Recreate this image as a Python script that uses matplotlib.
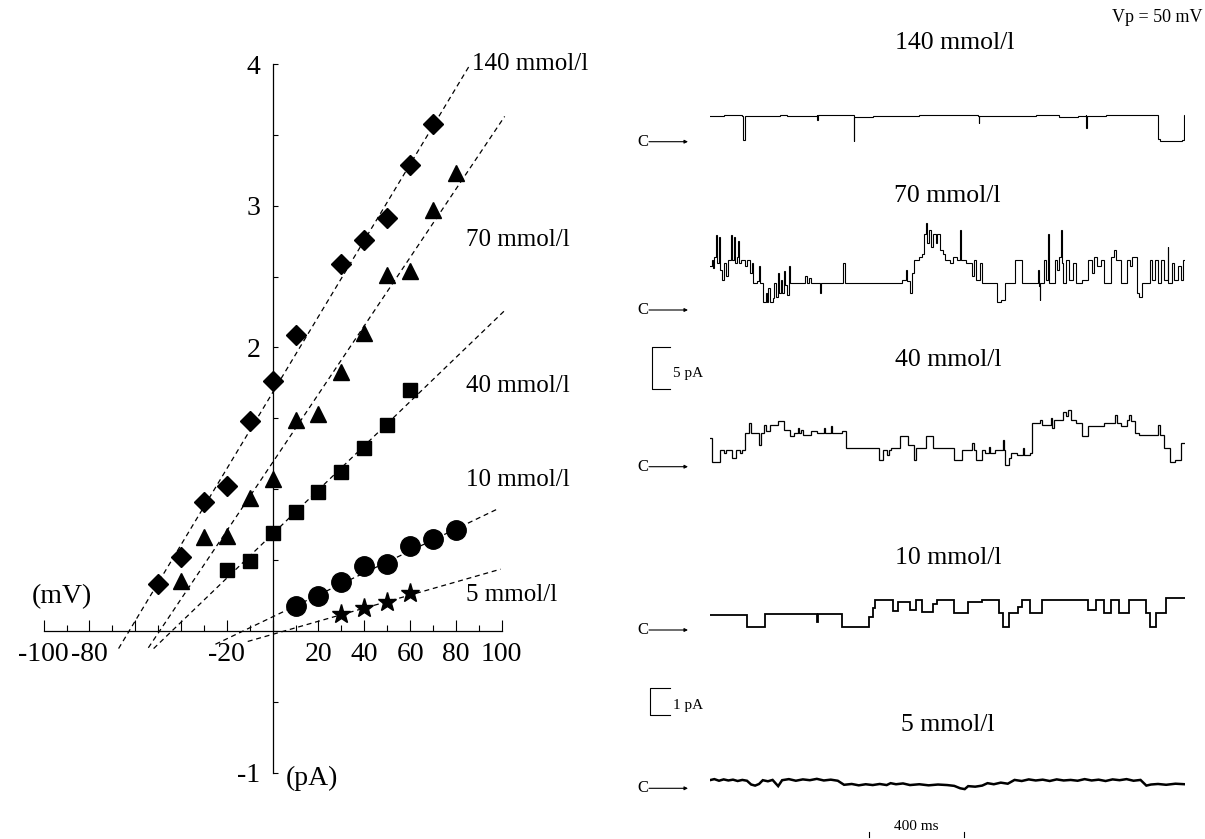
import matplotlib
matplotlib.use("Agg")
import matplotlib.pyplot as plt
import numpy as np

plt.rcParams['font.family'] = ['Liberation Serif', 'DejaVu Serif']

# ---------------- I-V data (mV, pA) ----------------
v140 = [-50, -40, -30, -20, -10, 0, 10, 30, 40, 50, 60, 70]
i140 = [0.33, 0.52, 0.91, 1.02, 1.48, 1.76, 2.09, 2.59, 2.76, 2.91, 3.29, 3.58]
v70 = [-40, -30, -20, -10, 0, 10, 20, 30, 40, 50, 60, 70, 80]
i70 = [0.35, 0.66, 0.67, 0.94, 1.07, 1.49, 1.53, 1.83, 2.10, 2.51, 2.54, 2.97, 3.23]
v40 = [-20, -10, 0, 10, 20, 30, 40, 50, 60]
i40 = [0.43, 0.49, 0.69, 0.84, 0.98, 1.12, 1.29, 1.45, 1.70]
v10 = [10, 20, 30, 40, 50, 60, 70, 80]
i10 = [0.176, 0.245, 0.346, 0.456, 0.47, 0.60, 0.65, 0.71]
v5 = [30, 40, 50, 60]
i5 = [0.122, 0.162, 0.205, 0.264]

# fitted lines: slope (pA/mV), intercept (pA), x-range (mV)
fit_slope = [0.02685, 0.0241, 0.01556, 0.00775, 0.00462]
fit_icpt = [1.682, 1.189, 0.684, 0.099, -0.0246]
fit_x0 = [-67.3, -54.3, -52.0, -25.0, -10.9]
fit_x1 = [85.6, 101.3, 101.3, 99.0, 99.5]

conc_labels = ['140 mmol/l', '70 mmol/l', '40 mmol/l', '10 mmol/l', '5 mmol/l']
xticks_major = [-100, -80, -60, -40, -20, 0, 20, 40, 60, 80, 100]
xtick_labels = ['-100', '-80', '', '', '-20', '', '20', '40', '60', '80', '100']
yticks_major = [-1, 2, 3, 4]
ytick_labels = ['-1', '2', '3', '4']

# ---------------- single-channel traces (ms, pA), step data ----------------
tr140_t = [0, 60, 140, 143, 150, 152, 300, 330, 460, 462, 464, 617, 619, 621, 640, 700, 900,
           1154, 1156, 1158, 1400, 1500, 1580, 1615, 1617, 1619, 1700, 1923, 1925, 1935,
           2030, 2036, 2041]
tr140_i = [3.10, 3.15, 3.10, 0.20, 0.20, 3.05, 3.15, 3.10, 3.20, 2.60, 3.15, 3.20, 0.10, 3.00,
           2.90, 3.05, 3.15, 3.10, 2.20, 3.10, 3.15, 3.00, 3.10, 3.15, 1.60, 3.10, 3.20, 3.15,
           0.30, 0.10, 0.15, 3.20, 3.20]

tr70_t = [0, 8, 14, 20, 28, 33, 42, 46, 53, 60, 68, 78, 90, 96, 103, 108, 116, 120, 125, 135,
          150, 161, 172, 180, 186, 205, 211, 218, 228, 240, 245, 252, 258, 270, 278, 286, 294,
          298, 306, 311, 319, 323, 330, 341, 345, 411, 418, 428, 434, 474, 479, 574, 580, 827,
          843, 848, 860, 868, 877, 900, 910, 920, 927, 932, 943, 952, 960, 970, 977, 990, 1000,
          1010, 1030, 1043, 1060, 1076, 1080, 1100, 1126, 1135, 1145, 1160, 1168, 1234, 1250,
          1268, 1309, 1342, 1409, 1414, 1417, 1420, 1435, 1442, 1451, 1455, 1459, 1484, 1492,
          1500, 1509, 1513, 1517, 1530, 1545, 1560, 1575, 1600, 1625, 1640, 1650, 1665, 1680,
          1692, 1725, 1735, 1745, 1767, 1792, 1805, 1815, 1833, 1845, 1858, 1891, 1900, 1912,
          1925, 1940, 1952, 1966, 1970, 1985, 1995, 2010, 2025, 2032, 2041]
tr70_i = [5.2, 6.0, 5.0, 6.3, 8.9, 5.6, 8.7, 4.8, 3.6, 5.6, 4.0, 6.0, 8.9, 6.0, 8.7, 5.6, 6.3,
          8.2, 5.6, 6.0, 5.2, 6.0, 4.4, 5.6, 3.2, 3.4, 5.2, 3.2, 1.0, 2.0, 1.0, 2.6, 1.0, 1.4,
          3.2, 1.6, 4.4, 2.0, 3.6, 2.0, 4.6, 3.0, 1.8, 5.2, 3.2, 4.0, 3.2, 3.8, 3.2, 2.0, 3.2,
          5.6, 3.2, 3.6, 4.8, 3.4, 2.0, 4.4, 6.0, 6.3, 6.7, 9.1, 10.3, 8.0, 9.5, 7.5, 9.1, 8.0,
          9.1, 7.1, 6.7, 6.0, 5.6, 6.3, 6.0, 9.5, 6.0, 5.6, 4.0, 6.0, 3.6, 5.6, 3.2, 1.0, 1.2,
          3.2, 6.0, 3.2, 4.8, 2.8, 1.2, 3.2, 6.0, 3.6, 9.1, 5.6, 3.2, 6.0, 4.8, 6.3, 9.5, 5.6,
          3.2, 6.0, 3.6, 5.6, 3.2, 3.6, 6.0, 4.4, 6.3, 5.2, 6.0, 3.2, 6.3, 7.1, 6.0, 3.2, 6.0,
          5.2, 6.3, 2.0, 1.6, 3.2, 6.0, 3.6, 6.0, 3.2, 6.0, 3.6, 7.5, 3.2, 5.6, 3.6, 5.2, 3.6,
          6.0, 6.0]

tr40_t = [0, 8, 45, 60, 68, 95, 111, 130, 140, 153, 170, 178, 211, 220, 235, 240, 261, 294,
          319, 344, 361, 380, 385, 394, 400, 436, 461, 490, 495, 519, 527, 569, 586, 727, 744,
          760, 768, 777, 818, 852, 877, 885, 927, 960, 1051, 1085, 1126, 1135, 1143, 1168,
          1184, 1200, 1205, 1226, 1260, 1265, 1268, 1284, 1293, 1318, 1345, 1350, 1376, 1384,
          1420, 1425, 1467, 1472, 1480, 1517, 1530, 1540, 1550, 1575, 1600, 1625, 1692, 1742,
          1750, 1767, 1792, 1800, 1810, 1825, 1842, 1925, 1932, 1950, 1975, 2000, 2025, 2041]
tr40_i = [3.4, 0.6, 2.0, 1.6, 2.0, 1.0, 2.0, 1.6, 2.0, 4.0, 5.2, 4.0, 2.6, 4.0, 5.0, 4.2, 5.0,
          5.4, 4.4, 3.6, 4.0, 4.6, 4.0, 4.4, 3.8, 4.2, 4.0, 4.6, 4.0, 4.8, 4.0, 4.2, 2.2, 0.8,
          2.0, 1.4, 2.0, 2.2, 3.6, 2.6, 0.8, 2.2, 3.6, 2.2, 0.8, 2.0, 2.8, 2.0, 0.8, 2.0, 1.6,
          2.4, 1.6, 2.0, 3.2, 2.0, 0.2, 1.0, 1.6, 1.4, 2.2, 1.4, 1.6, 5.2, 5.6, 5.0, 5.8, 4.6,
          5.6, 6.5, 6.0, 6.7, 5.6, 5.2, 3.6, 4.8, 5.2, 6.2, 5.2, 4.8, 5.6, 6.2, 5.4, 4.0, 3.8,
          5.0, 3.8, 2.2, 0.6, 0.8, 2.8, 2.8]

tr10_t = [0, 161, 236, 461, 466, 569, 685, 700, 710, 785, 810, 860, 885, 910, 960, 977, 1051,
          1110, 1168, 1243, 1259, 1284, 1326, 1342, 1376, 1426, 1625, 1659, 1692, 1725, 1759,
          1800, 1875, 1891, 1916, 1958, 2041]
tr10_i = [0.55, 0.12, 0.60, 0.30, 0.60, 0.10, 0.50, 0.80, 1.10, 0.70, 1.05, 0.75, 1.10, 0.68,
          0.95, 1.10, 0.62, 1.05, 1.10, 0.62, 0.12, 0.62, 0.85, 1.10, 0.62, 1.10, 0.75, 1.10,
          0.62, 1.10, 0.62, 1.10, 0.62, 0.10, 0.62, 1.20, 1.20]

tr5_t = [0, 20, 40, 60, 80, 100, 120, 140, 160, 178, 195, 212, 228, 250, 270, 294, 311, 340,
         370, 400, 430, 460, 490, 520, 550, 577, 610, 640, 670, 700, 730, 760, 777, 800, 830,
         860, 900, 940, 980, 1020, 1050, 1076, 1095, 1110, 1140, 1170, 1193, 1220, 1250, 1280,
         1309, 1340, 1370, 1400, 1430, 1460, 1490, 1520, 1550, 1580, 1610, 1640, 1670, 1700,
         1730, 1760, 1790, 1820, 1850, 1875, 1895, 1925, 1960, 2000, 2041]
tr5_i = [0.30, 0.34, 0.28, 0.33, 0.29, 0.32, 0.27, 0.31, 0.28, 0.14, 0.10, 0.16, 0.30, 0.26,
         0.31, 0.08, 0.30, 0.34, 0.28, 0.33, 0.30, 0.35, 0.29, 0.32, 0.28, 0.13, 0.16, 0.11,
         0.15, 0.12, 0.16, 0.12, 0.19, 0.15, 0.18, 0.12, 0.15, 0.11, 0.14, 0.12, 0.09, 0.00,
         -0.03, 0.08, 0.06, 0.10, 0.19, 0.15, 0.21, 0.17, 0.31, 0.27, 0.33, 0.29, 0.32, 0.27,
         0.33, 0.29, 0.31, 0.28, 0.34, 0.29, 0.32, 0.27, 0.33, 0.30, 0.34, 0.28, 0.31, 0.10,
         0.14, 0.16, 0.13, 0.17, 0.15]

# ---------------- figure ----------------
W, H = 1205, 839
fig = plt.figure(figsize=(W / 100, H / 100), dpi=100)
FS = 20      # tick labels / axis units
FSL = 18     # concentration labels

# ----- I-V plot -----
ax = fig.add_axes([0, 0, 600 / W, 1])
ax.patch.set_alpha(0)
ax.set_xlim(-119.08, 142.93)
ax.set_ylim(-1.469, 4.452)
for s in ['top', 'right']:
    ax.spines[s].set_visible(False)
ax.spines['bottom'].set_position(('data', 0))
ax.spines['bottom'].set_bounds(-100, 100)
ax.spines['left'].set_position(('data', 0))
ax.spines['left'].set_bounds(-1, 4)
for s in ['bottom', 'left']:
    ax.spines[s].set_linewidth(0.9)

ax.set_xticks(xticks_major)
ax.set_xticklabels(xtick_labels)
ax.set_xticks(np.arange(-90, 100, 20), minor=True)
ax.tick_params(axis='x', which='major', direction='in', length=8, width=0.8, pad=8,
               labelsize=FS)
ax.tick_params(axis='x', which='minor', direction='in', length=4, width=0.8)
ax.set_yticks(yticks_major)
ax.set_yticklabels(ytick_labels)
ax.set_yticks([-0.5, 0, 0.5, 1, 1.5, 2.5, 3.5], minor=True)
ax.tick_params(axis='y', which='both', direction='in', length=3.5, width=0.8, pad=9,
               labelsize=FS)

data = [(v140, i140, 'D', 10), (v70, i70, '^', 12), (v40, i40, 's', 9.5),
        (v10, i10, 'o', 14), (v5, i5, '*', 14)]
for k, (vx, iy, mk, ms) in enumerate(data):
    xs = np.array([fit_x0[k], fit_x1[k]])
    ax.plot(xs, fit_slope[k] * xs + fit_icpt[k], color='k', lw=0.9, ls=(0, (4, 3)),
            zorder=2)
    ax.plot(vx, iy, ls='none', marker=mk, ms=ms, color='k', mec='k', zorder=3)

ax.text(87.0, 4.0, conc_labels[0], ha='left', va='center', fontsize=FSL)
ax.text(84.4, 2.76, conc_labels[1], ha='left', va='center', fontsize=FSL)
ax.text(84.4, 1.73, conc_labels[2], ha='left', va='center', fontsize=FSL)
ax.text(84.4, 1.065, conc_labels[3], ha='left', va='center', fontsize=FSL)
ax.text(84.4, 0.25, conc_labels[4], ha='left', va='center', fontsize=FSL)
ax.text(-92.1, 0.24, '(mV)', ha='center', va='center', fontsize=FS)
ax.text(5.8, -1.04, '(pA)', ha='left', va='center', fontsize=FS)

# ----- overlay in figure pixels for annotations -----
ov = fig.add_axes([0, 0, 1, 1])
ov.set_xlim(0, W)
ov.set_ylim(H, 0)
ov.axis('off')
ov.patch.set_alpha(0)

TX0, TX1, TT = 709.7, 1185.0, 2041.0
traces = [(tr140_t, tr140_i, 141.7, 8.4, 0.8, 'steps-post'),
          (tr70_t, tr70_i, 310.0, 8.4, 0.8, 'steps-post'),
          (tr40_t, tr40_i, 466.7, 8.4, 0.9, 'steps-post'),
          (tr10_t, tr10_i, 630.0, 27.0, 1.3, 'steps-post'),
          (tr5_t, tr5_i, 788.3, 27.0, 1.8, 'default')]
title_pos = [(955, 43), (947, 196), (948, 360), (948, 558), (948, 725)]
trace_axes = []
for (tt, ii, cy, gain, lw, ds), (lx, ly), lab in zip(traces, title_pos, conc_labels):
    up, down = 120, 30
    a = fig.add_axes([TX0 / W, 1 - (cy + down) / H, (TX1 - TX0) / W, (up + down) / H])
    a.set_xlim(0, TT)
    a.set_ylim(-down / gain, up / gain)
    a.axis('off')
    a.patch.set_alpha(0)
    a.plot(tt, ii, color='k', lw=lw, drawstyle=ds, solid_joinstyle='miter')
    trace_axes.append(a)
    ov.text(lx, ly, lab, ha='center', va='center', fontsize=18.5)
    ov.text(642.5, cy, 'C', ha='center', va='center', fontsize=12)
    ov.annotate('', xy=(688, cy), xytext=(649, cy),
                arrowprops=dict(arrowstyle='-|>', lw=0.8, color='k', mutation_scale=5,
                                shrinkA=0, shrinkB=0))

ov.text(1202, 18, 'Vp = 50 mV', ha='right', va='center', fontsize=13)

# scale bars
for (x0, y0, gain, val, lab) in [(651.7, 347.3, 8.4, 5, '5 pA'), (650.4, 688.3, 27.0, 1, '1 pA')]:
    L = val * gain
    ov.plot([669.5, x0, x0, 669.5], [y0, y0, y0 + L, y0 + L], color='k', lw=0.8)
    ov.text(673, y0 + L * 0.62, lab, ha='left', va='center', fontsize=11)

a5 = trace_axes[-1]
for tb in [682, 1093]:
    a5.plot([tb, tb], [-1.6, -1.8], color='k', lw=0.8, clip_on=False)
ov.text(916.5, 827, '400 ms', ha='center', va='center', fontsize=11)

fig.savefig('out.png', dpi=100)
